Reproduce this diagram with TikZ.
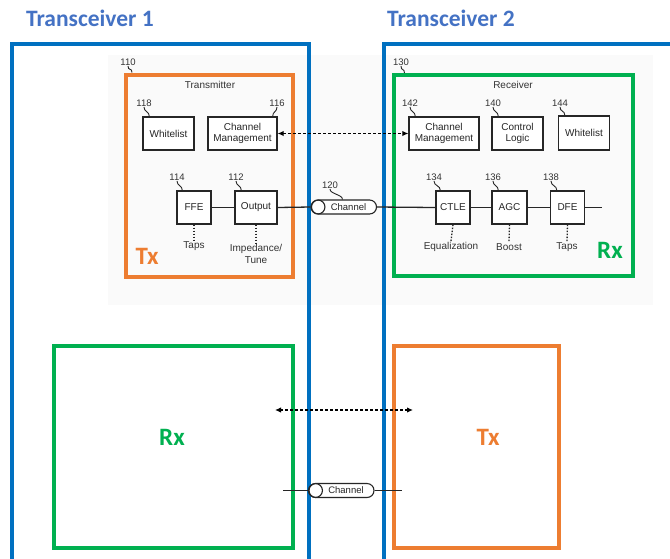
\documentclass[tikz,border=0pt]{standalone}
\usepackage{fontspec}
\setmainfont{Liberation Sans}
\newfontfamily\calib{Carlito}
\usetikzlibrary{calc,shapes.misc,arrows.meta}
\definecolor{tblue}{HTML}{0070C0}
\definecolor{ttitle}{HTML}{4472C4}
\definecolor{torange}{HTML}{ED7D31}
\definecolor{tgreen}{HTML}{00B050}
\definecolor{pbg}{HTML}{FAFAFA}
\begin{document}
\begin{tikzpicture}[x=1pt,y=-1pt,
  blk/.style={draw=black!85, line width=1.3pt, fill=white, font=\fontsize{10}{11}\selectfont, text=black!85, align=center, inner sep=1pt},
  txt/.style={font=\fontsize{10}{12}\selectfont, text=black!80, align=center, inner sep=1pt},
  numlbl/.style={font=\fontsize{9.5}{10}\selectfont, text=black!80, inner sep=0.5pt},
  leader/.style={draw=black!85, line width=0.9pt},
  wire/.style={draw=black!85, line width=1.3pt},
  tapline/.style={draw=black!85, line width=1.3pt, dash pattern=on 1.5pt off 1.5pt},
  dbl/.style={draw=black, line width=1.2pt, dash pattern=on 3pt off 2pt, {Latex[length=6pt,width=5.5pt]}-{Latex[length=6pt,width=5.5pt]}},
  chan/.style={draw=black!85, line width=1.1pt, fill=white, rounded rectangle, minimum width=65, minimum height=14, inner sep=0pt, font=\fontsize{9.5}{10}\selectfont, text=black!85},
  chcirc/.style={draw=black!85, line width=1.1pt, circle, minimum size=14, inner sep=0pt},
  bigbox/.style={line width=4pt, inner sep=0pt},
  bigtxt/.style={font=\calib\bfseries\fontsize{25}{27}\selectfont, inner sep=0pt},
  title/.style={font=\calib\bfseries\fontsize{23.5}{25}\selectfont, text=ttitle, inner sep=0pt}
]
\useasboundingbox (0,0) rectangle (670,558);
\clip (0,0) rectangle (670,558);
\fill[white] (0,0) rectangle (670,558);
\fill[pbg] (108,55) rectangle (653,305);

% titles
\node[title] (t1) at (90,18) {Transceiver 1};
\node[title] (t2) at (451,18) {Transceiver 2};

% transceiver outlines
\draw[tblue, line width=4pt] (12,44) rectangle (309,600);
\draw[tblue, line width=4pt] (384,44) rectangle (720,600);

% ---------- Transmitter ----------
\node[bigbox, draw=torange, minimum width=167, minimum height=202] (txbox) at (209,175.5) {};
\node[txt] (txname) at (210,85) {Transmitter};
\node[blk, minimum width=51, minimum height=33] (wl1) at (168.5,133.5) {Whitelist};
\node[blk, minimum width=69, minimum height=33] (cm1) at (242.5,133.5) {Channel\\Management};
\node[blk, minimum width=34, minimum height=33] (ffe) at (194,207.5) {FFE};
\node[blk, minimum width=42, minimum height=33] (outp) at (256,207.5) {Output};
\node[txt] (taps1) at (194,246) {Taps};
\node[txt] (imp) at (256,254) {Impedance/\\Tune};
\node[bigtxt, text=torange] (txl) at (147,256) {Tx};

\node[numlbl] (n110) at (128,62) {110};
\node[numlbl] (n118) at (144,103) {118};
\node[numlbl] (n116) at (277,103) {116};
\node[numlbl] (n114) at (177,177) {114};
\node[numlbl] (n112) at (236,177) {112};
\draw[leader] (n110.south) .. controls +(0,5) and +(0,-5) .. ($(txbox.north west)+(8.5,0)$);
\draw[leader] (n118.south) .. controls +(0,5) and +(0,-5) .. ($(wl1.north west)+(7,0)$);
\draw[leader] (n116.south) .. controls +(0,5) and +(0,-5) .. ($(cm1.north east)+(-5,0)$);
\draw[leader] (n114.south) .. controls +(0,5) and +(0,-5) .. ($(ffe.north west)+(6,0)$);
\draw[leader] (n112.south) .. controls +(0,5) and +(0,-5) .. ($(outp.north west)+(7,0)$);

\draw[wire] (ffe.east) -- (outp.west);
\draw[tapline] (ffe.south) -- (taps1.north);
\draw[tapline] (outp.south) -- (imp.north);

% ---------- Receiver ----------
\node[bigbox, draw=tgreen, minimum width=239, minimum height=201] (rxbox) at (513,175.5) {};
\node[txt] (rxname) at (513,85) {Receiver};
\node[blk, minimum width=70, minimum height=33] (cm2) at (444,133.5) {Channel\\Management};
\node[blk, minimum width=51, minimum height=33] (cl) at (517.5,133.5) {Control\\Logic};
\node[blk, minimum width=51, minimum height=34] (wl2) at (584,133) {Whitelist};
\node[blk, minimum width=34, minimum height=33] (ctle) at (453,207.5) {CTLE};
\node[blk, minimum width=35, minimum height=33] (agc) at (509.5,207.5) {AGC};
\node[blk, minimum width=34, minimum height=33] (dfe) at (567.5,207.5) {DFE};
\node[txt] (eq) at (451,247) {Equalization};
\node[txt] (boost) at (509,247) {Boost};
\node[txt] (taps2) at (567,247) {Taps};
\node[bigtxt, text=tgreen] (rxl) at (610,250) {Rx};
\coordinate (rxend) at (602,207.5);

\node[numlbl] (n130) at (401,62) {130};
\node[numlbl] (n142) at (410,103) {142};
\node[numlbl] (n140) at (493,103) {140};
\node[numlbl] (n144) at (560,103) {144};
\node[numlbl] (n134) at (434,177) {134};
\node[numlbl] (n136) at (493,177) {136};
\node[numlbl] (n138) at (551,177) {138};
\draw[leader] (n130.south) .. controls +(0,5) and +(0,-5) .. ($(rxbox.north west)+(13,0)$);
\draw[leader] (n142.south) .. controls +(0,5) and +(0,-5) .. ($(cm2.north west)+(7,0)$);
\draw[leader] (n140.south) .. controls +(0,5) and +(0,-5) .. ($(cl.north west)+(7,0)$);
\draw[leader] (n144.south) .. controls +(0,5) and +(0,-5) .. ($(wl2.north west)+(7,0)$);
\draw[leader] (n134.south) .. controls +(0,5) and +(0,-5) .. ($(ctle.north west)+(5,0)$);
\draw[leader] (n136.south) .. controls +(0,5) and +(0,-5) .. ($(agc.north west)+(7,0)$);
\draw[leader] (n138.south) .. controls +(0,5) and +(0,-5) .. ($(dfe.north west)+(7,0)$);

\draw[wire] (ctle.east) -- (agc.west);
\draw[wire] (agc.east) -- (dfe.west);
\draw[wire] (dfe.east) -- (rxend);
\draw[tapline] (ctle.south) -- (eq.north);
\draw[tapline] (agc.south) -- (boost.north);
\draw[tapline] (dfe.south) -- (taps2.north);

% ---------- top channel ----------
\node[chan] (ch1) at (344,207) {\hspace{9pt}Channel};
\node[chcirc] (ch1c) at ($(ch1.west)+(7,0)$) {};
\node[numlbl] (n120) at (330,185) {120};
\draw[leader] (n120.south) .. controls +(0,5) and +(0,-5) .. ($(ch1.north west)+(24,0)$);
\draw[wire] (outp.east) -- (ch1c.west);
\draw[wire] (ch1.east) -- (ctle.west);
\draw[dbl] (cm1.east) -- (cm2.west);

% ---------- bottom ----------
\node[bigbox, draw=tgreen, minimum width=239, minimum height=202] (rxbox2) at (173,447) {};
\node[bigbox, draw=torange, minimum width=165, minimum height=202] (txbox2) at (476.5,447) {};
\node[bigtxt, text=tgreen] (rxl2) at (172,437) {Rx};
\node[bigtxt, text=torange] (txl2) at (488,437) {Tx};
\coordinate (ba1) at (275,410);
\coordinate (ba2) at (413,410);
\draw[dbl] (ba1) -- (ba2);
\node[chan] (ch2) at (341.5,490.5) {\hspace{9pt}Channel};
\node[chcirc] (ch2c) at ($(ch2.west)+(7,0)$) {};
\coordinate (bw1) at (283,490.5);
\coordinate (bw2) at (402,490.5);
\draw[wire] (bw1) -- (ch2c.west);
\draw[wire] (ch2.east) -- (bw2);
\end{tikzpicture}
\end{document}
